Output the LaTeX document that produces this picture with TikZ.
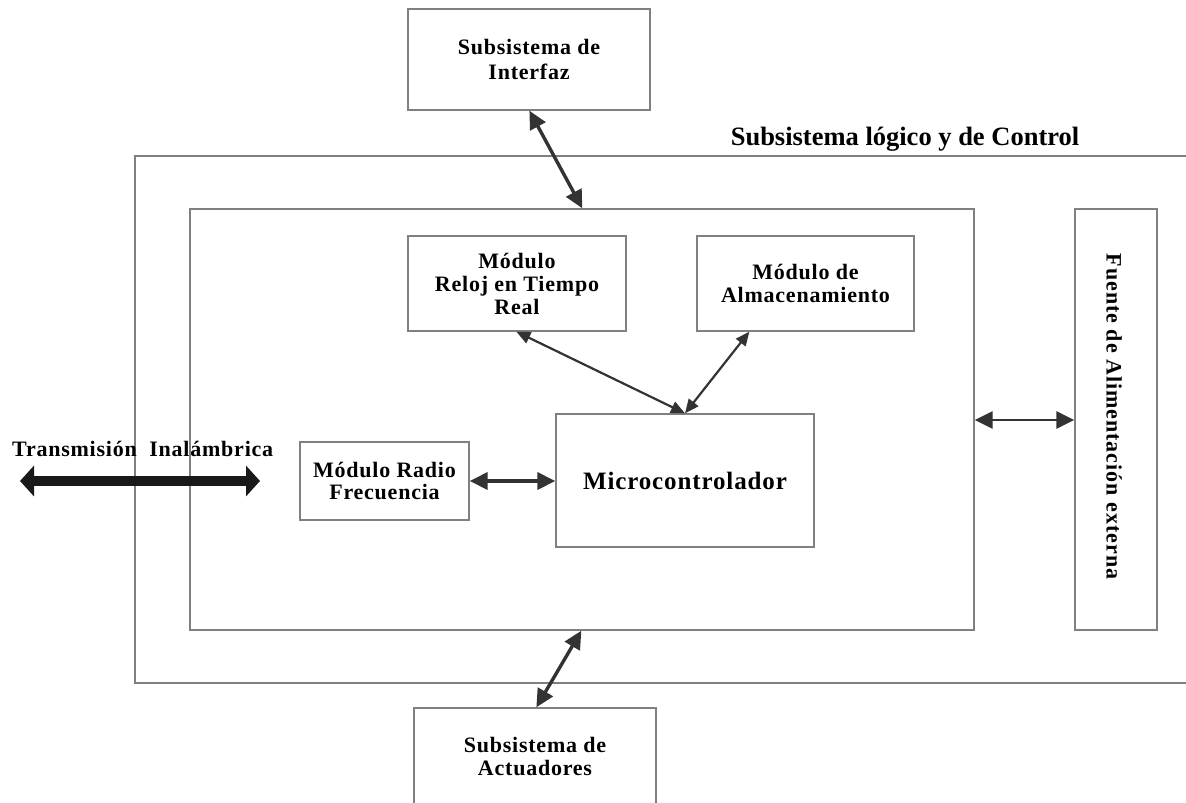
\documentclass[tikz,border=0pt]{standalone}
\usepackage{fontspec}
\setmainfont{Liberation Serif}
\newfontfamily\boxfont[LetterSpace=3.5]{Liberation Serif}
\newfontfamily\vfont[LetterSpace=4.5]{Liberation Serif}
\usetikzlibrary{arrows.meta,calc}
\definecolor{boxgray}{HTML}{808080}
\definecolor{arrowdark}{HTML}{333333}
\tikzset{
  blk/.style={draw=boxgray, line width=1.3pt, rectangle, inner sep=0pt, align=center,
    font=\fontsize{22}{23}\boxfont\bfseries, text=black},
  conn/.style={arrowdark, line width=2.2pt, {Triangle[length=14pt,width=12pt]}-{Triangle[length=14pt,width=12pt]}},
  bigconn/.style={arrowdark, line width=3.4pt, {Triangle[length=18pt,width=17pt]}-{Triangle[length=18pt,width=17pt]}},
  wide/.style={black!90, line width=10pt, {Triangle[length=14pt,width=30pt]}-{Triangle[length=14pt,width=30pt]}},
  lbl/.style={font=\fontsize{22}{23}\boxfont\bfseries, text=black, inner sep=0pt, align=center},
}
\begin{document}
\begin{tikzpicture}[x=1pt,y=-1pt]
\useasboundingbox (0,0) rectangle (1186,803);
\clip (0,0) rectangle (1186,803);
% outer and inner frames
\node[blk, minimum width=1065pt, minimum height=527pt] (outer) at (667.5,419.5) {};
\node[blk, minimum width=784pt, minimum height=421pt] (inner) at (582,419.5) {};
\node[lbl, anchor=base, font=\fontsize{26.5}{27}\selectfont\bfseries] (title) at (905,145) {Subsistema lógico y de Control};
% top / bottom subsystems
\node[blk, minimum width=242pt, minimum height=101pt, font=\fontsize{22}{25}\boxfont\bfseries] (ifz) at (529,59.5) {Subsistema de\\Interfaz};
\node[blk, minimum width=242pt, minimum height=110pt] (act) at (535,763) {};
\node[lbl] (acttxt) at (535,756) {Subsistema de\\Actuadores};
% power box
\node[blk, minimum width=82pt, minimum height=421pt] (pwr) at (1116,419.5) {};
\node[lbl, rotate=-90, font=\fontsize{22}{23}\vfont\bfseries] (pwrtxt) at (1114,416.5) {Fuente de Alimentación externa};
% inner modules
\node[blk, minimum width=218pt, minimum height=95pt] (rtc) at (517,283.5) {Módulo\\Reloj en Tiempo\\Real};
\node[blk, minimum width=217pt, minimum height=95pt] (alm) at (805.5,283.5) {Módulo de\\Almacenamiento};
\node[blk, minimum width=258pt, minimum height=133pt, font=\fontsize{25}{25}\boxfont\bfseries] (mcu) at (685,480.5) {Microcontrolador};
\node[blk, minimum width=169pt, minimum height=78pt, font=\fontsize{22}{21.5}\boxfont\bfseries] (rf) at (384.5,481) {Módulo Radio\\Frecuencia};
% wireless
\node[lbl, anchor=base west] (wtxt) at (12,456) {Transmisión\ \ Inalámbrica};
\coordinate (wl) at (20,481);
\coordinate (wr) at (260,481);
\draw[wide] (wl) -- (wr);
% connectors
\draw[bigconn] ([xshift=122pt]ifz.south west) -- ([xshift=393pt]inner.north west);
\draw[bigconn] ([xshift=392pt]inner.south west) -- ([xshift=123pt]act.north west);
\draw[conn] ([xshift=109pt]rtc.south west) -- (mcu.north);
\draw[conn] ([xshift=53pt]alm.south west) -- (mcu.north);
\draw[bigconn] (rf.east) -- (mcu.west |- rf.east);
\draw[bigconn, line width=2.8pt] (inner.east |- 0,420) -- (pwr.west |- 0,420);
\end{tikzpicture}
\end{document}
